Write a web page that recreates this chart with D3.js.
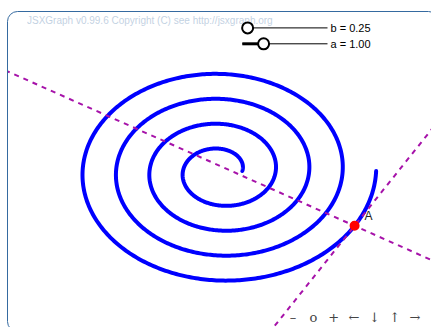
<!DOCTYPE html>
<html><head><meta charset="utf-8">
<script src="https://cdnjs.cloudflare.com/ajax/libs/d3/7.8.5/d3.min.js"></script>
<style>html,body{margin:0;padding:0;background:#fff;overflow:hidden}</style>
</head><body><svg id="c" width="431" height="327"></svg>
<script>
// ---- data ----
const boundingBox = [-10, 10, 10, -10];           // xmin, ymax, xmax, ymin
const sliderNames = ["b", "a"];
const sliderValues = [0.25, 1.00];
const sliderMin = [0, 0];
const sliderMax = [4, 4];
const sliderStartX = [1, 1];
const sliderEndX = [5, 5];
const sliderY = [9, 8];
const phiRange = [0, 8 * Math.PI];                // spiral r = a + b*phi
const gliderPhi = [24.63];
const gliderNames = ["A"];
const navLabels = ["\u2013", "o", "+", "\u2190", "\u2193", "\u2191", "\u2192"];
const copyrightText = ["JSXGraph v0.99.6 Copyright (C) see http://jsxgraph.org"];

// ---- setup ----
const svg = d3.select("#c");
const bx = 8, by = 12, bw = 426, bh = 318;
const x = d3.scaleLinear().domain([boundingBox[0], boundingBox[2]]).range([bx, bx + bw]);
const y = d3.scaleLinear().domain([boundingBox[1], boundingBox[3]]).range([by, by + bh]);

svg.append("defs").append("clipPath").attr("id", "bclip")
  .append("rect").attr("x", bx).attr("y", by).attr("width", bw + 6).attr("height", bh);

// board border
svg.append("rect").attr("x", 7.5).attr("y", 11.5).attr("width", 431).attr("height", 320)
  .attr("rx", 10).attr("ry", 10).attr("fill", "none").attr("stroke", "#356AA0").attr("stroke-width", 1);

// copyright
svg.append("text").attr("x", bx + 19).attr("y", by + 12).text(copyrightText[0])
  .attr("font-family", "'Liberation Sans', Arial, sans-serif").attr("font-size", 10)
  .attr("fill", "#356AA0").attr("opacity", 0.3);

const g = svg.append("g").attr("clip-path", "url(#bclip)");

const aVal = sliderValues[sliderNames.indexOf("a")];
const bVal = sliderValues[sliderNames.indexOf("b")];
const rad = phi => aVal + bVal * phi;

// spiral
const phis = d3.range(0, 1601).map(i => phiRange[0] + (phiRange[1] - phiRange[0]) * i / 1600);
const spiralLine = d3.line().x(p => x(rad(p) * Math.cos(p))).y(p => y(rad(p) * Math.sin(p)));
g.append("path").datum(phis).attr("d", spiralLine)
  .attr("fill", "none").attr("stroke", "#0000ff").attr("stroke-width", 4)
  .attr("stroke-linecap", "round").attr("stroke-linejoin", "round");

// tangent and normal at glider
gliderPhi.forEach((p, i) => {
  const r = rad(p);
  const px = r * Math.cos(p), py = r * Math.sin(p);
  const dx = bVal * Math.cos(p) - r * Math.sin(p);
  const dy = bVal * Math.sin(p) + r * Math.cos(p);
  const L = 100 / Math.hypot(dx, dy);
  const lines = [[dx, dy], [dy, -dx]];
  lines.forEach(([ux, uy]) => {
    g.append("line")
      .attr("x1", x(px - ux * L)).attr("y1", y(py - uy * L))
      .attr("x2", x(px + ux * L)).attr("y2", y(py + uy * L))
      .attr("stroke", "#a612a9").attr("stroke-width", 2).attr("stroke-dasharray", "5,5");
  });
  g.append("circle").attr("cx", x(px)).attr("cy", y(py)).attr("r", 4)
    .attr("fill", "#ff0000").attr("stroke", "#ff0000").attr("stroke-width", 2);
  g.append("text").attr("x", x(px) + 10).attr("y", y(py) - 10).attr("dy", "0.35em")
    .text(gliderNames[i]).attr("font-family", "'Liberation Sans', Arial, sans-serif")
    .attr("font-size", 12).attr("fill", "#222");
});

// sliders
sliderNames.forEach((n, i) => {
  const sy = y(sliderY[i]);
  const x0 = x(sliderStartX[i]), x1 = x(sliderEndX[i]);
  const sx = d3.scaleLinear().domain([sliderMin[i], sliderMax[i]]).range([x0, x1]);
  const vx = sx(sliderValues[i]);
  g.append("line").attr("x1", x0).attr("x2", x1).attr("y1", sy).attr("y2", sy)
    .attr("stroke", "#000").attr("stroke-width", 1);
  g.append("line").attr("x1", x0).attr("x2", vx).attr("y1", sy).attr("y2", sy)
    .attr("stroke", "#000").attr("stroke-width", 3);
  g.append("circle").attr("cx", vx).attr("cy", sy).attr("r", 5.5)
    .attr("fill", "#fff").attr("stroke", "#000").attr("stroke-width", 2);
  g.append("text").attr("x", x1 + 3).attr("y", sy).attr("dy", "0.35em")
    .text(n + " = " + sliderValues[i].toFixed(2))
    .attr("font-family", "'Liberation Sans', Arial, sans-serif").attr("font-size", 11).attr("fill", "#000");
});

// navigation bar
const nav = d3.scalePoint().domain(navLabels).range([293, 415]);
svg.append("g").selectAll("text").data(navLabels).join("text")
  .attr("x", d => nav(d)).attr("y", 317).attr("dy", "0.35em").attr("text-anchor", "middle")
  .text(d => d).attr("font-family", "'DejaVu Serif', 'Liberation Serif', serif")
  .attr("font-size", 13).attr("fill", "#444");
</script></body></html>
